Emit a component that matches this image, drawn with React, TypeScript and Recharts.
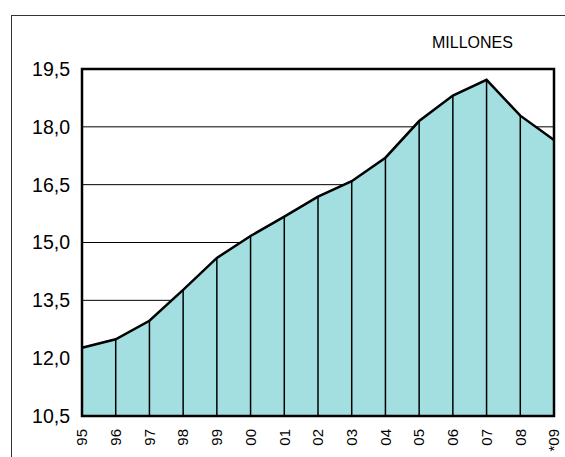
import { ComposedChart, Area, XAxis, YAxis, CartesianGrid, ReferenceLine, ReferenceArea } from "recharts";

const years = ["95", "96", "97", "98", "99", "00", "01", "02", "03", "04", "05", "06", "07", "08", "*09"];
const millones = [12.27, 12.49, 12.97, 13.77, 14.6, 15.17, 15.67, 16.19, 16.59, 17.2, 18.15, 18.81, 19.22, 18.29, 17.66];
const yTicks = [10.5, 12, 13.5, 15, 16.5, 18, 19.5];

const data = years.map((year, i) => ({ year, value: millones[i] }));

const FONT = "Arial, 'Liberation Sans', Helvetica, sans-serif";

function YearTick({ x, y, payload }: any) {
  return (
    <text
      x={x}
      y={y}
      transform={`rotate(-90, ${x}, ${y})`}
      dy="0.35em"
      textAnchor="end"
      fontSize={15}
      fontFamily={FONT}
      fill="#000"
    >
      {payload.value}
    </text>
  );
}

export default function App() {
  return (
    <div style={{ position: "fixed", left: 0, top: 0, width: 565, height: 457, overflow: "hidden", background: "#fff" }}>
      <div
        style={{
          position: "absolute",
          left: 11,
          top: 15,
          width: 600,
          height: 500,
          borderLeft: "1px solid #333",
          borderTop: "1px solid #333",
        }}
      />
      <div style={{ position: "absolute", left: 432, top: 34, fontFamily: FONT, fontSize: 16, color: "#000" }}>
        MILLONES
      </div>
      <div style={{ position: "absolute", left: 0, top: 0 }}>
        <ComposedChart width={565} height={457} data={data} margin={{ top: 69, right: 11, bottom: 5, left: 0 }}>
          <CartesianGrid horizontal vertical={false} stroke="#000" strokeWidth={1} />
          <XAxis
            dataKey="year"
            axisLine={false}
            tickLine={false}
            interval={0}
            height={36}
            tick={<YearTick />}
            tickMargin={7}
          />
          <YAxis
            type="number"
            domain={[10.5, 19.5]}
            ticks={yTicks}
            axisLine={false}
            tickLine={false}
            width={82}
            tickMargin={6}
            tickFormatter={(v: number) => v.toFixed(1).replace(".", ",")}
            tick={{ fill: "#000", fontSize: 19.5, fontFamily: FONT }}
          />
          <Area
            type="linear"
            dataKey="value"
            baseValue={10.5}
            fill="#a3dfe0"
            fillOpacity={1}
            stroke="#000"
            strokeWidth={2.5}
            dot={false}
            activeDot={false}
            isAnimationActive={false}
          />
          {data.map((d) => (
            <ReferenceLine
              key={d.year}
              segment={[
                { x: d.year, y: 10.5 },
                { x: d.year, y: d.value },
              ]}
              stroke="#000"
              strokeWidth={1.5}
            />
          ))}
          <ReferenceArea
            x1={years[0]}
            x2={years[years.length - 1]}
            y1={10.5}
            y2={19.5}
            fill="none"
            fillOpacity={0}
            stroke="#000"
            strokeWidth={2.5}
          />
        </ComposedChart>
      </div>
    </div>
  );
}
